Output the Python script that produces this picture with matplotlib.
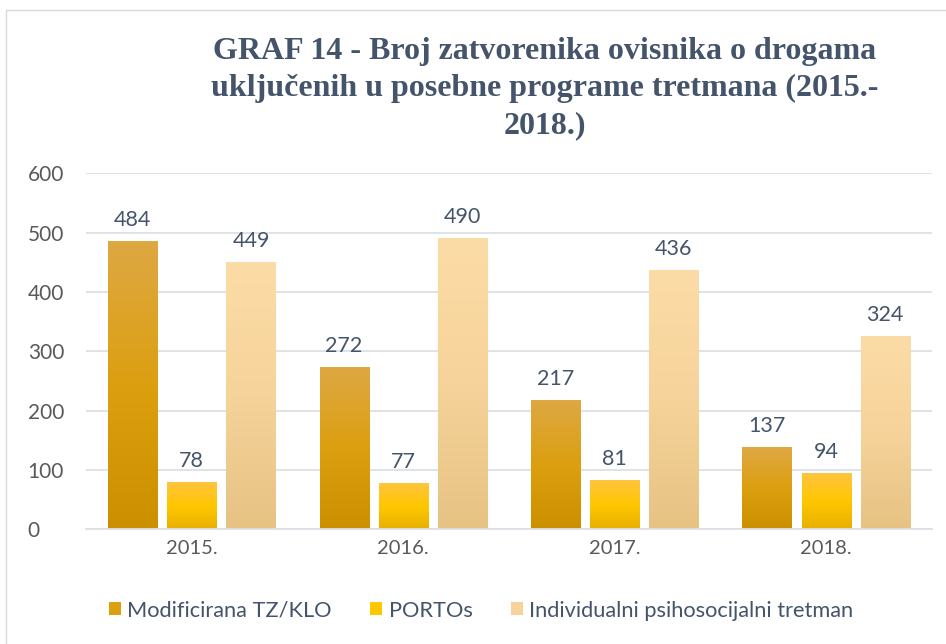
import numpy as np
import matplotlib.pyplot as plt
from matplotlib.colors import LinearSegmentedColormap
from matplotlib.patches import Rectangle, Patch

# data
years = ['2015.', '2016.', '2017.', '2018.']
series_names = ['Modificirana TZ/KLO', 'PORTOs', 'Individualni psihosocijalni tretman']
modificirana = [484, 272, 217, 137]
portos = [78, 77, 81, 94]
individualni = [449, 490, 436, 324]

# top -> bottom gradient colours for each series
grad_colors = [
    ['#DEA843', '#DC9F10', '#CC8F00'],
    ['#FFC43F', '#FFC700', '#E8B000'],
    ['#FCDCA6', '#F6D39A', '#E6C283'],
]
text_col = '#44546A'
tick_col = '#595959'

plt.rcParams['font.family'] = ['Lato', 'DejaVu Sans']

fig = plt.figure(figsize=(9.46, 6.44), dpi=100)
ax = fig.add_axes([0.091, 0.178, 0.894, 0.553])

x = np.arange(len(years))
width = 0.232
offsets = [-0.28, 0.0, 0.28]
all_vals = [modificirana, portos, individualni]

for vals, off, cols in zip(all_vals, offsets, grad_colors):
    cmap = LinearSegmentedColormap.from_list('g', cols[::-1])
    grad = np.linspace(0, 1, 256).reshape(-1, 1)
    for xi, v in zip(x, vals):
        left = xi + off - width / 2
        ax.imshow(grad, cmap=cmap, origin='lower', aspect='auto',
                  extent=(left, left + width, 0, v), zorder=2)
        ax.text(xi + off, v + 20, str(v), ha='center', va='bottom',
                fontsize=15.5, color=text_col)

ax.set_xlim(-0.5, len(years) - 0.5)
ax.set_ylim(0, 600)
ax.set_yticks(range(0, 601, 100))
ax.set_xticks(x)
ax.set_xticklabels(years)
ax.tick_params(axis='x', length=0, labelsize=14.5, colors=tick_col, pad=8)
ax.tick_params(axis='y', length=0, labelsize=15, colors=tick_col, pad=42)
for lbl in ax.get_yticklabels():
    lbl.set_horizontalalignment('left')
ax.grid(axis='y', color='#DCE0E6', linewidth=1.3, zorder=0)
ax.set_axisbelow(True)
for s in ['top', 'right', 'left']:
    ax.spines[s].set_visible(False)
ax.spines['bottom'].set_color('#DCE0E6')
ax.spines['bottom'].set_linewidth(1.3)

fig.text(0.576, 0.943, 'GRAF 14 - Broj zatvorenika ovisnika o drogama\n'
         'uključenih u posebne programe tretmana (2015.-\n2018.)',
         ha='center', va='top', fontsize=23, fontweight='bold',
         family='Liberation Serif', color=text_col, linespacing=1.38)

handles = [Patch(facecolor=c[1], edgecolor='none') for c in grad_colors]
fig.legend(handles, series_names, loc='center left', bbox_to_anchor=(0.115, 0.052),
           ncol=3, frameon=False, fontsize=15.7, handlelength=0.55, handleheight=0.55,
           handletextpad=0.3, columnspacing=1.75, labelcolor=text_col,
           borderpad=0, borderaxespad=0)

fig.add_artist(Rectangle((0.006, -0.01), 1.2, 0.995, transform=fig.transFigure,
                         fill=False, edgecolor='#D9D9D9', linewidth=1))

fig.savefig('out.png', dpi=100)
